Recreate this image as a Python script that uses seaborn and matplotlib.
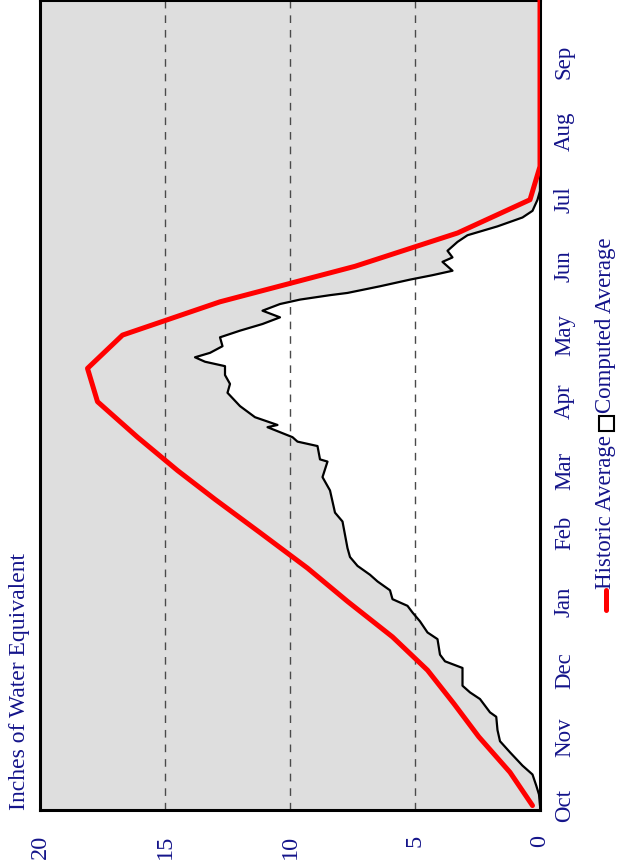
import matplotlib
matplotlib.use("Agg")
import matplotlib.pyplot as plt
from matplotlib.lines import Line2D
from matplotlib.patches import Rectangle
import seaborn as sns
import pandas as pd

# Month labels along the water year (day index from Oct 1)
month_labels = ["Oct", "Nov", "Dec", "Jan", "Feb", "Mar", "Apr", "May", "Jun", "Jul", "Aug", "Sep"]
month_days = [0, 31, 61, 92, 123, 151, 182, 212, 243, 273, 304, 335]
inch_ticks = [0, 5, 10, 15, 20]

# Historic average snow water equivalent (semi-monthly)
hist_days = [0, 15, 31, 46, 61, 76, 92, 107, 123, 138, 151, 166, 182, 197, 212, 227, 243, 258, 273, 288, 364]
hist_swe = [0.3, 1.2, 2.45, 3.45, 4.5, 5.9, 7.7, 9.3, 11.2, 13.0, 14.5, 16.1, 17.7, 18.1, 16.7, 12.8, 7.4, 3.3, 0.4, 0.0, 0.0]

# Computed average snow water equivalent
comp_days = [0, 5, 9, 14, 18, 24, 29, 34, 40, 42, 48, 51, 54, 62, 65, 68, 75, 78, 83, 87,
             90, 93, 97, 101, 104, 108, 112, 116, 122, 128, 132, 137, 142, 148, 155, 156, 162, 164, 166, 170.5,
             171.5, 175, 180, 186, 190, 194, 198, 200, 202, 204, 207, 211, 214, 217, 220, 223, 226, 228, 230, 231,
             234, 237, 239, 241, 245, 247, 250, 254, 257, 261, 265, 268, 273, 277, 364]
comp_swe = [0.0, 0.04, 0.15, 0.3, 0.7, 1.2, 1.6, 1.7, 1.75, 2.0, 2.4, 2.8, 3.1, 3.1, 3.8, 4.0, 4.1, 4.5, 4.8, 5.1,
            5.3, 5.9, 6.0, 6.5, 6.8, 7.3, 7.6, 7.7, 7.8, 7.9, 8.2, 8.3, 8.4, 8.7, 8.5, 8.8, 8.9, 9.7, 9.9, 10.9,
            10.5, 11.4, 12.0, 12.5, 12.4, 12.6, 12.6, 13.4, 13.8, 13.2, 12.7, 12.8, 12.0, 11.1, 10.4, 11.1, 10.4, 9.6, 8.4, 7.7,
            6.4, 5.2, 4.3, 3.5, 3.9, 3.5, 3.7, 3.3, 2.9, 1.7, 0.7, 0.3, 0.1, 0.0, 0.0]

hist = pd.DataFrame({"day": hist_days, "swe": hist_swe})
comp = pd.DataFrame({"day": comp_days, "swe": comp_swe})

sns.set_style("white")
plt.rcParams["font.family"] = ["Liberation Serif", "DejaVu Sans"]
text_color = "#14148a"
fs = 16.5

W, H = 620, 863
fig = plt.figure(figsize=(W / 100, H / 100), dpi=100)
ax = fig.add_axes([40 / W, (H - 810) / H, 500 / W, 810 / H])
ax.set_facecolor("#dedede")

# white area under the computed curve
ax.fill_betweenx(comp["day"], 0, comp["swe"], color="white", lw=0, zorder=1)

for v in [5, 10, 15]:
    ax.axvline(v, color="#4a4a4a", lw=1.0, dashes=(5.5, 5), zorder=2)

sns.lineplot(data=comp, x="swe", y="day", orient="y", sort=False, color="black",
             lw=1.6, estimator=None, ax=ax, zorder=3)
sns.lineplot(data=hist, x="swe", y="day", orient="y", sort=False, color="#ff0000",
             lw=3.6, estimator=None, ax=ax, zorder=4)

ax.set_xlim(20, 0)
ax.set_ylim(-2, 363)
ax.set_xlabel("")
ax.set_ylabel("")

ax.set_xticks(inch_ticks)
ax.set_xticklabels([str(t) for t in inch_ticks], rotation=90, color=text_color, fontsize=17.5)
ax.tick_params(axis="x", length=0, pad=18)

ax.yaxis.tick_right()
ax.set_yticks(month_days)
ax.set_yticklabels(month_labels, rotation=90, va="center", color=text_color, fontsize=fs)
ax.tick_params(axis="y", length=0, pad=10)

for s in ax.spines.values():
    s.set_visible(True)
    s.set_color("black")
    s.set_linewidth(2.2)

# axis title, written along the left edge
fig.text(20 / W, 1 - 810 / H, "Inches of Water Equivalent", rotation=90,
         ha="center", va="bottom", color=text_color, fontsize=17)

# legend drawn along the right edge
lx = 606 / W
fig.canvas.draw()
r = fig.canvas.get_renderer()
bar_bottom, bar_top = 610, 590
fig.add_artist(Line2D([lx, lx], [1 - bar_bottom / H, 1 - bar_top / H],
                      transform=fig.transFigure, color="#ff0000", lw=3.6))
t1 = fig.text(lx, 1 - (bar_top - 1) / H, "Historic Average", rotation=90,
              ha="center", va="bottom", color=text_color, fontsize=fs)
bb = t1.get_window_extent(r)
sq_bottom = bb.y1 + 4
sq = 15
fig.add_artist(Rectangle(((606 - sq / 2) / W, sq_bottom / H), sq / W, sq / H,
                         transform=fig.transFigure, facecolor="white",
                         edgecolor="black", lw=1.5))
fig.text(lx, (sq_bottom + sq + 3) / H, "Computed Average", rotation=90,
         ha="center", va="bottom", color=text_color, fontsize=fs)

fig.savefig("out.png", dpi=100)
